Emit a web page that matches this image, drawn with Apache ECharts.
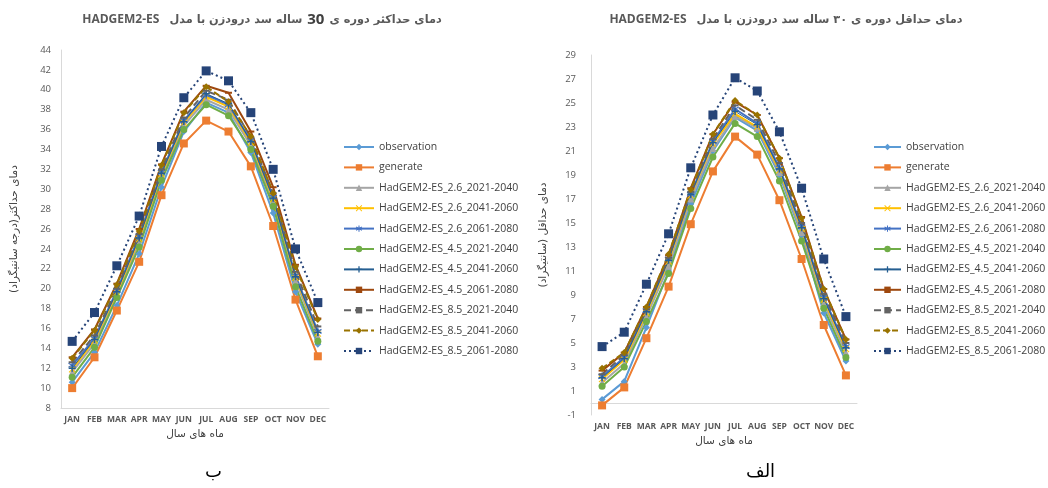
<!DOCTYPE html>
<html><head><meta charset="utf-8">
<script src="https://cdn.jsdelivr.net/npm/echarts@6/dist/echarts.min.js"></script>
<style>html,body{margin:0;padding:0;background:#fff;}#a,#b{position:absolute;top:0;width:524px;height:488px;}#a{left:0}#b{left:524px}</style>
</head><body><div id="a"></div><div id="b"></div>
<script>
const months = ['JAN','FEB','MAR','APR','MAY','JUN','JUL','AUG','SEP','OCT','NOV','DEC'];
const seriesNames = ['observation','generate','HadGEM2-ES_2.6_2021-2040','HadGEM2-ES_2.6_2041-2060','HadGEM2-ES_2.6_2061-2080','HadGEM2-ES_4.5_2021-2040','HadGEM2-ES_4.5_2041-2060','HadGEM2-ES_4.5_2061-2080','HadGEM2-ES_8.5_2021-2040','HadGEM2-ES_8.5_2041-2060','HadGEM2-ES_8.5_2061-2080'];

// Left chart (ب): maximum temperature
const maxAxisMin = 8, maxAxisMax = 44, maxAxisStep = 2;
const maxObservation = [10.6, 13.6, 18.3, 23.5, 30.2, 35.8, 38.7, 37.7, 33.7, 27.6, 19.7, 14.4];
const maxGenerate    = [10.0, 13.1, 17.8, 22.7, 29.4, 34.6, 36.9, 35.8, 32.3, 26.3, 18.9, 13.2];
const max26_2021     = [11.6, 14.5, 19.3, 24.6, 31.2, 36.4, 39.0, 38.0, 34.4, 28.7, 20.8, 15.2];
const max26_2041     = [11.9, 14.8, 19.6, 25.0, 31.5, 36.7, 39.3, 38.3, 34.7, 29.0, 21.1, 15.5];
const max26_2061     = [12.3, 15.0, 19.8, 25.3, 31.7, 36.9, 39.5, 38.5, 34.9, 29.2, 21.3, 15.7];
const max45_2021     = [11.1, 14.1, 19.1, 24.2, 30.9, 36.0, 38.5, 37.4, 34.0, 28.3, 20.2, 14.7];
const max45_2041     = [12.0, 14.9, 19.7, 25.1, 31.6, 36.8, 39.6, 38.6, 34.8, 29.1, 21.2, 15.6];
const max45_2061     = [13.1, 15.9, 20.5, 26.0, 32.5, 37.8, 40.4, 39.7, 35.8, 30.2, 22.4, 17.0];
const max85_2021     = [12.6, 15.3, 20.0, 25.5, 32.0, 37.2, 39.9, 39.0, 35.2, 29.6, 21.7, 16.2];
const max85_2041     = [13.0, 15.8, 20.4, 25.8, 32.4, 37.7, 40.3, 38.8, 35.3, 29.6, 22.2, 16.9];
const max85_2061     = [14.7, 17.6, 22.3, 27.3, 34.3, 39.2, 41.9, 40.9, 37.7, 32.0, 24.0, 18.6];

// Right chart (الف): minimum temperature
const minAxisMin = -1, minAxisMax = 29, minAxisStep = 2;
const minObservation = [0.3, 1.8, 6.3, 11.0, 16.6, 21.0, 23.8, 22.7, 19.0, 14.0, 7.5, 3.5];
const minGenerate    = [-0.2, 1.3, 5.4, 9.7, 14.9, 19.3, 22.2, 20.7, 16.9, 12.0, 6.5, 2.3];
const min26_2021     = [1.7, 3.3, 7.2, 11.4, 17.0, 21.2, 23.9, 22.9, 19.2, 14.2, 8.3, 4.2];
const min26_2041     = [2.0, 3.6, 7.5, 11.8, 17.3, 21.6, 24.1, 23.0, 19.4, 14.5, 8.6, 4.5];
const min26_2061     = [2.2, 3.8, 7.7, 12.0, 17.4, 21.8, 24.5, 23.3, 19.6, 14.7, 8.8, 4.7];
const min45_2021     = [1.4, 3.0, 6.8, 10.8, 16.2, 20.5, 23.3, 22.2, 18.5, 13.5, 7.9, 3.8];
const min45_2041     = [2.1, 3.7, 7.6, 11.9, 17.4, 21.7, 24.3, 23.2, 19.5, 14.6, 8.7, 4.6];
const min45_2061     = [2.7, 4.2, 8.0, 12.3, 17.9, 22.4, 25.1, 24.0, 20.4, 15.5, 9.5, 5.3];
const min85_2021     = [2.4, 4.0, 7.8, 12.1, 17.6, 22.0, 24.8, 23.6, 20.0, 15.0, 9.1, 5.0];
const min85_2041     = [2.9, 4.2, 8.0, 12.4, 17.8, 22.4, 25.2, 24.0, 20.4, 15.4, 9.5, 5.3];
const min85_2061     = [4.7, 5.9, 9.9, 14.1, 19.6, 24.0, 27.1, 26.0, 22.6, 17.9, 12.0, 7.2];

const maxData = [maxObservation, maxGenerate, max26_2021, max26_2041, max26_2061, max45_2021, max45_2041, max45_2061, max85_2021, max85_2041, max85_2061];
const minData = [minObservation, minGenerate, min26_2021, min26_2041, min26_2061, min45_2021, min45_2041, min45_2061, min85_2021, min85_2041, min85_2061];

const xShape = 'path://M1,0L5,4L9,0L10,1L6,5L10,9L9,10L5,6L1,10L0,9L4,5L0,1Z';
const starShape = 'path://M4.3,0H5.7V3.3L8.6,1.6L9.3,2.8L6.4,4.5L9.3,6.2L8.6,7.4L5.7,5.7V9H4.3V5.7L1.4,7.4L0.7,6.2L3.6,4.5L0.7,2.8L1.4,1.6L4.3,3.3Z';
const plusShape = 'path://M4,0H6V4H10V6H6V10H4V6H0V4H4Z';
const styles = [
  {color:'#5B9BD5', symbol:'diamond', size:7, width:2, type:'solid'},
  {color:'#ED7D31', symbol:'rect', size:8, width:2, type:'solid'},
  {color:'#A5A5A5', symbol:'triangle', size:7, width:2, type:'solid'},
  {color:'#FFC000', symbol:xShape, size:7, width:2, type:'solid'},
  {color:'#4472C4', symbol:starShape, size:8, width:2, type:'solid'},
  {color:'#70AD47', symbol:'circle', size:7, width:2, type:'solid'},
  {color:'#255E91', symbol:plusShape, size:7, width:1, type:'solid'},
  {color:'#9E480E', symbol:'rect', size:[7,2], width:2, type:'solid'},
  {color:'#636363', symbol:'rect', size:[7,2], width:2, type:[7,4]},
  {color:'#997300', symbol:'diamond', size:7, width:2, type:[6,3]},
  {color:'#264478', symbol:'rect', size:9, width:2, type:[2,3]}
];

const fa = "'DejaVu Sans', sans-serif";
const lat = "'Open Sans', 'Liberation Sans', sans-serif";

function buildSeries(data){
  return seriesNames.map((n,i)=>({
    name:n, type:'line', data:data[i], symbol:styles[i].symbol, symbolSize:styles[i].size,
    showAllSymbol:true,
    itemStyle:{color:styles[i].color},
    lineStyle:{color:styles[i].color, width:styles[i].width, type:styles[i].type},
    emphasis:{disabled:true}, animation:false
  }));
}

function build(cfg){
  return {
    animation:false,
    title:{text:cfg.title, left:'center', top:6, textStyle:{rich:{
      e:{fontFamily:lat, fontWeight:'bold', fontSize:12, color:'#595959'},
      p:{fontFamily:fa, fontSize:11.3, color:'#595959'},
      n:{fontFamily:lat, fontWeight:'bold', fontSize:15, color:'#404040'}
    }}},
    legend:{orient:'vertical', left:cfg.legendLeft, top:135, itemWidth:cfg.iw, itemHeight:8, itemGap:6.4,
      data:seriesNames, selectedMode:false,
      textStyle:{fontFamily:lat, fontSize:10.5, color:'#404040', lineHeight:14}},
    grid:{left:cfg.gl, right:cfg.gr, top:cfg.gt, bottom:cfg.gb, containLabel:false},
    xAxis:{type:'category', data:months, boundaryGap:true,
      axisLine:{lineStyle:{color:'#d9d9d9'}}, axisTick:{show:false},
      axisLabel:{interval:0, fontFamily:lat, fontSize:8.5, fontWeight:'bold', color:'#595959', margin:7},
      name:'ماه های سال', nameLocation:'middle', nameGap:21,
      nameTextStyle:{fontFamily:fa, fontSize:10.5, color:'#404040'}},
    yAxis:{type:'value', min:cfg.min, max:cfg.max, interval:cfg.step,
      axisLine:{show:true, lineStyle:{color:'#d9d9d9'}}, axisTick:{show:false}, splitLine:{show:false},
      axisLabel:{fontFamily:lat, fontSize:9.5, color:'#595959', margin:cfg.labelMargin},
      name:cfg.yName, nameLocation:'middle', nameRotate:90, nameGap:cfg.nameGap,
      nameTextStyle:{fontFamily:fa, fontSize:10.5, color:'#404040'}},
    graphic:[{type:'text', left:cfg.tagX, top:463, style:{text:cfg.tag, font:"18px 'DejaVu Sans'", fill:'#000'}}],
    series:buildSeries(cfg.data)
  };
}

const left = echarts.init(document.getElementById('a'), null, {renderer:'canvas'});
left.setOption(build({
  title:'{e|HADGEM2-ES}  {p|ساله سد درودزن با مدل} {n|30} {p|دمای حداکثر دوره ی}',
  legendLeft:338, iw:30, gl:61, gr:195, gt:50, gb:80,
  min:maxAxisMin, max:maxAxisMax, step:maxAxisStep, labelMargin:10,
  yName:'دمای حداکثر(درجه سانتیگراد)', nameGap:41,
  tag:'ب', tagX:205, data:maxData
}));
const right = echarts.init(document.getElementById('b'), null, {renderer:'canvas'});
right.setOption(build({
  title:'{e|HADGEM2-ES}  {p|دمای حداقل دوره ی ۳۰ ساله سد درودزن با مدل}',
  legendLeft:344, iw:27, gl:67, gr:191, gt:55, gb:73,
  min:minAxisMin, max:minAxisMax, step:minAxisStep, labelMargin:15,
  yName:'دمای حداقل (سانتیگراد)', nameGap:42,
  tag:'الف', tagX:222, data:minData
}));
</script></body></html>
